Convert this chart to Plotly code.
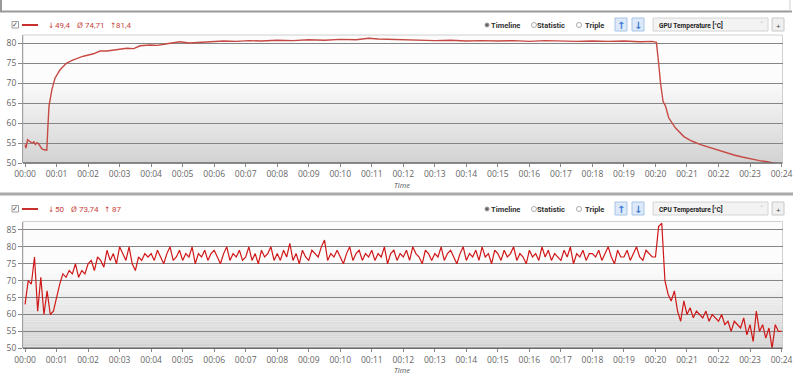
import plotly.graph_objects as go

W, H = 800, 378
def px(x): return x / W
def py(y): return 1 - y / H

# ---------------- data ----------------
tick_vals = list(range(25))
tick_labels = ["00:00", "00:01", "00:02", "00:03", "00:04", "00:05", "00:06", "00:07",
               "00:08", "00:09", "00:10", "00:11", "00:12", "00:13", "00:14", "00:15",
               "00:16", "00:17", "00:18", "00:19", "00:20", "00:21", "00:22", "00:23", "00:24"]

gpu_minutes = [0.0, 0.03, 0.08, 0.13, 0.18, 0.23, 0.28, 0.33, 0.38, 0.43, 0.48, 0.53, 0.6, 0.66, 0.69,
               0.72, 0.76, 0.85, 0.95, 1.11, 1.32, 1.53, 1.85, 2.17, 2.38, 2.6, 2.91, 3.23, 3.45, 3.65,
               3.97, 4.2, 4.5, 4.92, 5.2, 5.56, 5.9, 6.3, 6.7, 7.1, 7.5, 8.0, 8.5, 9.0, 9.5, 10.0,
               10.5, 10.9, 11.2, 11.6, 12.0, 12.5, 13.0, 13.5, 14.0, 14.5, 15.0, 15.5, 16.0, 16.5,
               17.0, 17.5, 18.0, 18.5, 19.0, 19.5, 19.9, 20.03, 20.1, 20.16, 20.24, 20.32, 20.42,
               20.63, 20.9, 21.15, 21.43, 21.7, 21.96, 22.2, 22.49, 22.75, 23.02, 23.3, 23.54, 23.8, 24.0]
gpu_temp = [54.6, 53.7, 55.8, 55.4, 55.2, 55.0, 55.3, 54.6, 55.1, 54.8, 54.0, 53.6, 53.3, 53.2, 53.2,
            58.3, 64.2, 68.3, 71.2, 73.3, 75.0, 75.8, 76.7, 77.3, 78.0, 78.0, 78.3, 78.7, 78.6, 79.3,
            79.5, 79.4, 79.8, 80.3, 80.0, 80.2, 80.4, 80.5, 80.4, 80.6, 80.5, 80.7, 80.6, 80.8, 80.7, 80.9,
            80.8, 81.2, 81.0, 80.9, 80.8, 80.7, 80.6, 80.7, 80.5, 80.6, 80.5, 80.6, 80.4, 80.6,
            80.5, 80.4, 80.5, 80.4, 80.5, 80.3, 80.4, 80.15, 75.0, 70.0, 65.4, 64.2, 61.3,
            58.8, 56.6, 55.5, 54.6, 53.9, 53.2, 52.6, 52.0, 51.5, 51.0, 50.6, 50.3, 50.0, 49.6]

cpu_step_minutes = 0.1
cpu_temp = [
    63, 70, 69, 77, 61, 71, 60, 67, 60, 61,
    65, 69, 72, 71, 73, 72, 75, 71, 73, 72,
    75, 76, 73, 77, 76, 74, 79, 76, 78, 75,
    80, 78, 76, 80, 75, 73, 77, 76, 78, 77,
    78, 76, 79, 77, 75, 78, 80, 76, 77, 79,
    76, 78, 77, 80, 75, 78, 77, 79, 76, 78,
    79, 77, 75, 78, 80, 76, 78, 77, 79, 76,
    77, 80, 76, 78, 75, 79, 77, 78, 80, 76,
    78, 76, 79, 77, 81, 76, 78, 75, 79, 77,
    76, 79, 78, 77, 80, 82, 76, 78, 77, 79,
    77, 75, 78, 80, 76, 78, 79, 76, 78, 77,
    79, 76, 78, 77, 80, 75, 78, 79, 76, 78,
    77, 79, 76, 80, 78, 77, 75, 79, 78, 76,
    78, 77, 80, 76, 78, 79, 77, 75, 78, 80,
    76, 78, 77, 79, 76, 80, 77, 78, 75, 79,
    78, 76, 79, 77, 78, 80, 76, 78, 77, 75,
    79, 77, 78, 76, 80, 77, 79, 76, 78, 77,
    76, 79, 77, 80, 75, 78, 77, 79, 76, 78,
    78, 77, 79, 76, 78, 80, 77, 75, 79, 77,
    77, 79, 76, 78, 80, 77, 76, 79, 78, 77,
    77, 86, 87, 70, 66, 64, 67, 61, 58, 64,
    60, 62, 59, 61, 60, 59, 61, 58, 60, 59,
    58, 60, 57, 58, 55, 58, 57, 56, 59, 54,
    57, 52, 61, 55, 57, 53, 56, 50, 57, 55,
    55]
cpu_minutes = [i * cpu_step_minutes for i in range(len(cpu_temp))]

stat_symbols = ["↓", "Ø", "↑"]
gpu_stats = ["49,4", "74,71", "81,4"]
cpu_stats = ["50", "73,74", "87"]
gpu_name = "GPU Temperature [°C]"
cpu_name = "CPU Temperature [°C]"
gpu_yticks = [50, 55, 60, 65, 70, 75, 80]
cpu_yticks = [50, 55, 60, 65, 70, 75, 80, 85]

# ---------------- figure ----------------
FONT = "Open Sans"
UIFONT = "Roboto"
RED_TXT = "#c9403a"
fig = go.Figure()
fig.add_trace(go.Scatter(x=gpu_minutes, y=gpu_temp, mode="lines",
                         line=dict(color="#c64a44", width=1.4), xaxis="x", yaxis="y",
                         showlegend=False, hoverinfo="skip"))
fig.add_trace(go.Scatter(x=cpu_minutes, y=cpu_temp, mode="lines",
                         line=dict(color="#d01818", width=1.2), xaxis="x2", yaxis="y2",
                         showlegend=False, hoverinfo="skip"))

xdom = [px(23), px(782.5)]
xr = [-0.065, 24.03]
common_x = dict(range=xr, domain=xdom, tickvals=tick_vals, ticktext=tick_labels,
                showgrid=False, zeroline=False, showline=False, ticks="outside", automargin=False,
                ticklen=3, tickcolor="#888", tickfont=dict(family=FONT, size=8.5, color="#666"),
                fixedrange=True)
common_y = dict(showgrid=True, gridcolor="#858585", gridwidth=1.3, zeroline=False, automargin=False,
                showline=True, linecolor="#a0a0a0", linewidth=1, ticks="outside", ticklen=4,
                tickcolor="#888", tickfont=dict(family=FONT, size=8.5, color="#666"), fixedrange=True)

fig.update_layout(
    width=W, height=H, margin=dict(l=0, r=0, t=0, b=0, autoexpand=False),
    paper_bgcolor="white", plot_bgcolor="rgba(0,0,0,0)",
    xaxis=dict(anchor="y", **common_x),
    xaxis2=dict(anchor="y2", **common_x),
    yaxis=dict(anchor="x", domain=[py(163), py(35)], range=[50, 82], tickvals=gpu_yticks, **common_y),
    yaxis2=dict(anchor="x2", domain=[py(348.3), py(221.5)], range=[50, 87.5], tickvals=cpu_yticks, **common_y),
)

shapes = []
annos = []

# gradient backgrounds
def grad(yref, ymin, ymax, n):
    step = (ymax - ymin) / n
    for i in range(n):
        y0 = ymin + i * step
        frac = (ymax - (y0 + step / 2)) / (ymax - ymin)
        f = max(0.0, (frac - 0.35) / 0.65)
        g = int(round(252 - 42 * f))
        shapes.append(dict(type="rect", xref=yref.replace("y", "x") + " domain", yref=yref,
                           x0=0, x1=1, y0=y0, y1=y0 + step, fillcolor=f"rgb({g},{g},{g})",
                           line=dict(width=0), layer="below"))
grad("y", 50, 82, 64)
grad("y2", 50, 87.5, 75)

# plot borders
for xr_, yr_ in (("x domain", "y domain"), ("x2 domain", "y2 domain")):
    shapes.append(dict(type="rect", xref=xr_, yref=yr_, x0=0, x1=1, y0=0, y1=1,
                       line=dict(color="#d0d0d0", width=1), layer="below"))
    shapes.append(dict(type="line", xref=xr_, yref=yr_, x0=0, x1=1, y0=0, y1=0,
                       line=dict(color="#6a6a6a", width=1.5)))

# separators
shapes.append(dict(type="line", xref="paper", yref="paper", x0=px(0), x1=px(792), y0=py(11.5), y1=py(11.5),
                   line=dict(color="#999", width=2)))
shapes.append(dict(type="line", xref="paper", yref="paper", x0=px(1), x1=px(1), y0=py(0), y1=py(11.5),
                   line=dict(color="#999", width=2)))
shapes.append(dict(type="line", xref="paper", yref="paper", x0=px(790), x1=px(790), y0=py(0), y1=py(11.5),
                   line=dict(color="#cfcfcf", width=1)))
shapes.append(dict(type="line", xref="paper", yref="paper", x0=px(0), x1=px(793), y0=py(194), y1=py(194),
                   line=dict(color="#aaa", width=3)))

def rect(x0, y0, x1, y1, fill, border, w=1):
    shapes.append(dict(type="rect", xref="paper", yref="paper", x0=px(x0), x1=px(x1), y0=py(y1), y1=py(y0),
                       fillcolor=fill, line=dict(color=border, width=w)))

def text(x, y, s, size=8.5, color="#333", anchor="center", bold=False, italic=False, family=FONT):
    if bold:
        s = "<b>" + s + "</b>"
    if italic:
        s = "<i>" + s + "</i>"
    annos.append(dict(x=px(x), y=py(y), xref="paper", yref="paper", text=s, showarrow=False,
                      xanchor=anchor, yanchor="middle", borderpad=0,
                      font=dict(family=family, size=size, color=color)))

def header(yc, stats, sym_x, num_x, name):
    # checkbox
    rect(12, yc - 3.5, 18.5, yc + 3, "white", "#9a9a9a")
    text(15.3, yc - 0.3, "✓", size=7, color="#444", family="DejaVu Sans")
    shapes.append(dict(type="line", xref="paper", yref="paper", x0=px(22), x1=px(38), y0=py(yc), y1=py(yc),
                       line=dict(color="#c8302c", width=2)))
    for sx, s in zip(sym_x, stat_symbols):
        text(sx, yc, s, size=7.5, color=RED_TXT, family="DejaVu Sans")
    for nx, s in zip(num_x, stats):
        text(nx, yc, s, size=8, color=RED_TXT, family=UIFONT)
    # radios
    shapes.append(dict(type="circle", xref="paper", yref="paper", x0=px(485), x1=px(489),
                       y0=py(yc + 2), y1=py(yc - 2), fillcolor="#666", line=dict(color="#999", width=1)))
    for cx in (534, 579):
        shapes.append(dict(type="circle", xref="paper", yref="paper", x0=px(cx - 2.5), x1=px(cx + 2.5),
                           y0=py(yc + 2.5), y1=py(yc - 2.5), fillcolor="white", line=dict(color="#aaa", width=1)))
    text(506, yc, "Timeline", size=7.5, bold=True, family=UIFONT)
    text(550.5, yc, "Statistic", size=7.5, bold=True, family=UIFONT)
    text(594, yc, "Triple", size=7.5, bold=True, family=UIFONT)
    # arrow buttons
    rect(615, yc - 7, 627, yc + 6, "#dce9f8", "#a7c4e6")
    text(621, yc, "↑", size=10, color="#3b7bd4", bold=True, family="DejaVu Sans")
    rect(632, yc - 7, 644, yc + 6, "#dce9f8", "#a7c4e6")
    text(638, yc, "↓", size=10, color="#3b7bd4", bold=True, family="DejaVu Sans")
    # dropdown
    rect(653, yc - 7, 768, yc + 6, "#f3f3f3", "#d4d4d4")
    text(691, yc, name, size=6.5, color="#222", bold=True, family=UIFONT)
    text(762, yc, "˅", size=7, color="#aaa", family="DejaVu Sans")
    rect(772, yc - 7, 784, yc + 6, "#f0f0f0", "#c8c8c8")
    text(778, yc, "+", size=8, color="#444")

header(25, gpu_stats, (50.5, 79.5, 112.5), (62.5, 94.5, 124), gpu_name)
header(209, cpu_stats, (51, 73.5, 107), (59.5, 89, 116.5), cpu_name)

text(402, 185.5, "Time", size=7.5, color="#555", italic=True)
text(402, 370, "Time", size=7.5, color="#555", italic=True)

fig.update_layout(shapes=shapes, annotations=annos)
fig.write_html("out.html", config={"displayModeBar": False, "displaylogo": False},
               post_script="document.body.style.margin='0';document.body.style.overflow='hidden';")
